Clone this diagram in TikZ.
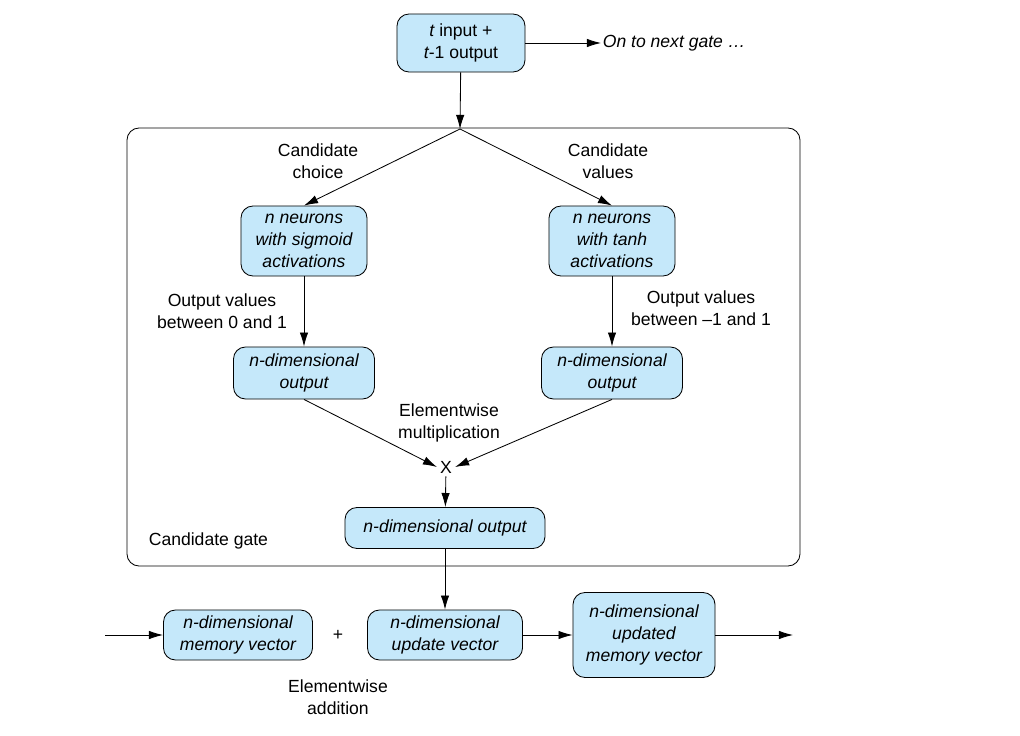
\documentclass[tikz,border=0pt]{standalone}
\usepackage{fontspec}
\setmainfont{Liberation Sans}
\usetikzlibrary{arrows.meta}
\definecolor{boxblue}{RGB}{197,232,250}
\newcommand{\tf}{\fontsize{12.5}{15.5}\selectfont}

\begin{document}
\begin{tikzpicture}[x=0.025cm,y=-0.025cm,font=\tf,line width=0.6pt,
   box/.style={draw,fill=boxblue,rounded corners=0.3cm,align=center,inner sep=1pt,font=\tf\itshape},
   lbl/.style={align=center,inner sep=1pt},
   arr/.style={-{Latex[length=10pt,width=6pt]}}]
   \useasboundingbox (0,0) rectangle (1020,736);
   % candidate gate frame
   \draw[rounded corners=0.3cm] (127,128) rectangle (800,566);
   \coordinate (apex) at (460,129);
   % boxes
   \node[box,minimum width=3.2cm,minimum height=1.45cm] (inp) at (461,43) {\textit{t} {\upshape input +}\\\textit{t}{\upshape -1 output}};
   \node[anchor=west,font=\tf\itshape,inner sep=1pt] (next) at (601,43) {On to next gate \dots};
   \node[box,minimum width=3.15cm,minimum height=1.75cm] (sig) at (304,241) {n neurons\\with sigmoid\\activations};
   \node[box,minimum width=3.15cm,minimum height=1.75cm] (tanh) at (612,241) {n neurons\\with tanh\\activations};
   \node[box,minimum width=3.525cm,minimum height=1.3cm] (outl) at (304,373) {n-dimensional\\output};
   \node[box,minimum width=3.525cm,minimum height=1.3cm] (outr) at (612,373) {n-dimensional\\output};
   \node[inner sep=2pt] (mul) at (446,467) {X};
   \node[box,minimum width=5cm,minimum height=1.025cm] (outc) at (445,528) {n-dimensional output};
   \node[box,minimum width=3.725cm,minimum height=1.25cm] (mem) at (238,635) {n-dimensional\\memory vector};
   \node[inner sep=1pt] (plus) at (338,635) {+};
   \node[box,minimum width=3.875cm,minimum height=1.25cm] (upd) at (445,635) {n-dimensional\\update vector};
   \node[box,minimum width=3.55cm,minimum height=2.125cm] (new) at (644,635) {n-dimensional\\updated\\memory vector};
   \coordinate (in) at (105,635);
   \coordinate (out) at (793,635);
   % labels
   \node[lbl] (cchoice) at (318,161) {Candidate\\choice};
   \node[lbl] (cvalues) at (608,161) {Candidate\\values};
   \node[lbl] (range01) at (222,311) {Output values\\between 0 and 1};
   \node[lbl] (range11) at (701,308) {Output values\\between --1 and 1};
   \node[lbl] (emul) at (449,423) {Elementwise\\multiplication};
   \node[lbl,anchor=west] (gate) at (147,541) {Candidate gate};
   \node[lbl] (eadd) at (338,697) {Elementwise\\addition};
   % connectors
   \draw[arr] (inp) -- (next);
   \draw[arr] (inp) -- (apex);
   \draw[arr] (apex) -- (sig.north);
   \draw[arr] (apex) -- (tanh.north);
   \draw[arr] (sig) -- (outl);
   \draw[arr] (tanh) -- (outr);
   \draw[arr] (outl.south) -- (mul.west);
   \draw[arr] (outr.south) -- (mul.east);
   \draw[arr] (mul) -- (outc);
   \draw[arr] (outc) -- (upd);
   \draw[arr] (in) -- (mem);
   \draw[arr] (upd) -- (new);
   \draw[arr] (new) -- (out);
\end{tikzpicture}
\end{document}
